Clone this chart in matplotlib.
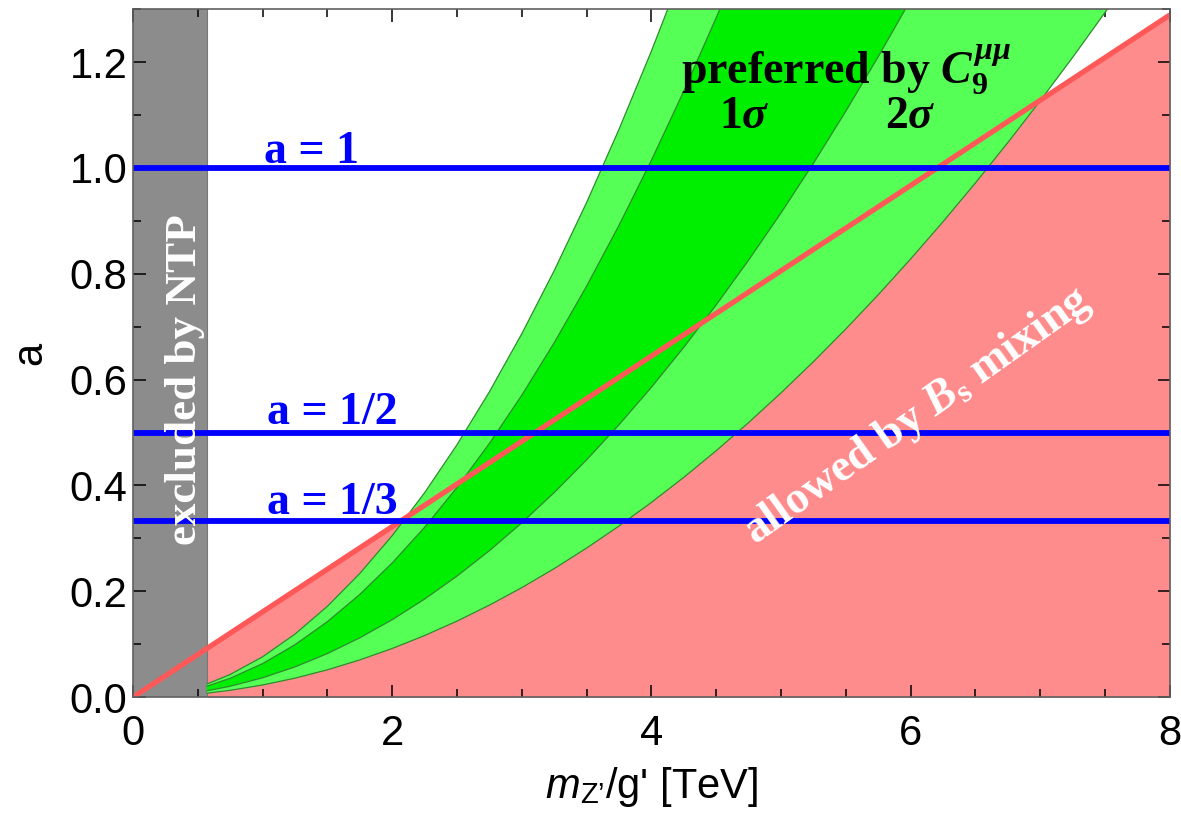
import matplotlib
matplotlib.use("Agg")
import matplotlib.pyplot as plt
from matplotlib.ticker import MultipleLocator

plt.rcParams['mathtext.fontset'] = 'custom'
plt.rcParams['mathtext.rm'] = 'Liberation Serif:bold'
plt.rcParams['mathtext.bf'] = 'Liberation Serif:bold'
plt.rcParams['mathtext.it'] = 'Liberation Serif:bold:italic'
plt.rcParams['mathtext.sf'] = 'Liberation Sans'
plt.rcParams['mathtext.cal'] = 'Liberation Sans:italic'

# ---- data ----
# NTP exclusion: m_Z'/g' below this value (TeV)
ntp_edge = 0.57
# Bs mixing bound: line a vs m (TeV)
bs_m = [0.0, 8.0]
bs_a = [0.0, 1.289]
bs_fill_m = [0.57, 8.0]
bs_fill_a = [0.092, 1.289]

# preferred-by-C9 band boundaries sampled on a common m grid
m_grid = [0.57, 0.75, 1.0, 1.25, 1.5, 1.75, 2.0, 2.25, 2.5, 2.75, 3.0, 3.25, 3.5,
          3.75, 4.0, 4.25, 4.5, 4.75, 5.0, 5.25, 5.5, 5.75, 6.0, 6.25, 6.5, 6.75,
          7.0, 7.25, 7.5, 7.75]
a_2s_upper = [0.0248, 0.0429, 0.0763, 0.1192, 0.1717, 0.2337, 0.3052, 0.3863,
              0.4769, 0.5770, 0.6867, 0.8059, 0.9347, 1.0730, 1.2208, 1.3782]
a_1s_upper = [0.0206, 0.0357, 0.0634, 0.0991, 0.1427, 0.1942, 0.2536, 0.3210,
              0.3963, 0.4795, 0.5706, 0.6697, 0.7767, 0.8916, 1.0144, 1.1452,
              1.2839, 1.4305]
a_1s_lower = [0.0119, 0.0206, 0.0366, 0.0572, 0.0824, 0.1121, 0.1464, 0.1853,
              0.2288, 0.2768, 0.3294, 0.3866, 0.4484, 0.5147, 0.5856, 0.6611,
              0.7412, 0.8258, 0.9150, 1.0088, 1.1072, 1.2101, 1.3176]
a_2s_lower = [0.0075, 0.0129, 0.0230, 0.0359, 0.0517, 0.0704, 0.0920, 0.1164,
              0.1437, 0.1739, 0.2070, 0.2429, 0.2817, 0.3234, 0.3680, 0.4154,
              0.4657, 0.5189, 0.5750, 0.6339, 0.6957, 0.7604, 0.8280, 0.8984,
              0.9717, 1.0479, 1.1270, 1.2089, 1.2938, 1.3815]

# benchmark values of a
a_lines = [1.0, 0.5, 1.0 / 3.0]
a_line_labels = ["a = 1", "a = 1/2", "a = 1/3"]

x_ticks = [0, 2, 4, 6, 8]
y_ticks = [0.0, 0.2, 0.4, 0.6, 0.8, 1.0, 1.2]

# ---- colours ----
c_gray = '#8c8c8c'
c_red_fill = '#ff8c8c'
c_red_line = '#ff5858'
c_green_2s = '#55ff55'
c_green_1s = '#00ee00'
c_green_edge = '#2e8b2e'
c_blue = '#0000ff'

fig = plt.figure(figsize=(11.81, 8.27), dpi=100)
ax = fig.add_axes([0.1126, 0.157, 0.8780, 0.832])

ax.set_xlim(0, 8)
ax.set_ylim(0, 1.3)

# NTP excluded region
ax.axvspan(0, ntp_edge, color=c_gray, lw=0, zorder=1)
ax.axvline(ntp_edge, color='#777777', lw=0.8, zorder=1.1)

# Bs mixing allowed region
ax.fill_between(bs_fill_m, 0, bs_fill_a, color=c_red_fill, lw=0, zorder=1)


def band(upper, lower, color):
    mu = m_grid[:len(upper)]
    ml = m_grid[:len(lower)]
    xs = list(mu) + list(ml[::-1])
    ys = list(upper) + list(lower[::-1])
    ax.fill(xs, ys, color=color, lw=0, zorder=2)
    ax.plot(mu, upper, color=c_green_edge, lw=0.9, zorder=2.5)
    ax.plot(ml, lower, color=c_green_edge, lw=0.9, zorder=2.5)


band(a_2s_upper, a_2s_lower, c_green_2s)
band(a_1s_upper, a_1s_lower, c_green_1s)

# Bs mixing line
ax.plot(bs_m, bs_a, color=c_red_line, lw=3.8, zorder=3, solid_capstyle='butt')

# a benchmark lines
for av in a_lines:
    ax.axhline(av, color=c_blue, lw=4.2, zorder=4)

serif = dict(family='Liberation Serif', weight='bold')
ax.text(1.38, 1.03, a_line_labels[0], color=c_blue, fontsize=33, ha='center',
        va='center', zorder=5, **serif)
ax.text(1.54, 0.537, a_line_labels[1], color=c_blue, fontsize=33, ha='center',
        va='center', zorder=5, **serif)
ax.text(1.54, 0.367, a_line_labels[2], color=c_blue, fontsize=33, ha='center',
        va='center', zorder=5, **serif)

ax.text(0.4, 0.60, "excluded by NTP", color='white', fontsize=32.5, rotation=90,
        ha='center', va='center', zorder=5, **serif)
ax.text(6.05, 0.53, r"allowed by $B_\mathrm{s}$ mixing", color='white',
        fontsize=33, rotation=35.4, rotation_mode='anchor', ha='center',
        va='center', zorder=5, **serif)
ax.text(5.5, 1.185, r"preferred by $C_9^{\mu\mu}$", color='black', fontsize=33,
        ha='center', va='center', zorder=5, **serif)
ax.text(4.72, 1.096, r"$1\sigma$", color='black', fontsize=33, ha='center',
        va='center', zorder=5, **serif)
ax.text(6.0, 1.096, r"$2\sigma$", color='black', fontsize=33, ha='center',
        va='center', zorder=5, **serif)

# axes styling
ax.set_xticks(x_ticks)
ax.set_yticks(y_ticks)
ax.set_xticklabels([str(t) for t in x_ticks])
ax.set_yticklabels([f"{t:.1f}" for t in y_ticks])
ax.xaxis.set_minor_locator(MultipleLocator(0.5))
ax.yaxis.set_minor_locator(MultipleLocator(0.1))
ax.tick_params(which='both', direction='in', top=True, right=True,
               color='black', width=1.1, zorder=6)
ax.tick_params(which='major', length=9)
ax.tick_params(which='minor', length=5.5)
ax.tick_params(axis='x', which='major', pad=12)
ax.tick_params(axis='y', which='major', pad=4)
for lab in ax.get_xticklabels() + ax.get_yticklabels():
    lab.set_family('Liberation Sans')
    lab.set_fontsize(30)
for sp in ax.spines.values():
    sp.set_color('#606060')
    sp.set_linewidth(1.2)
    sp.set_zorder(6)

ax.set_xlabel(r"$\mathcal{m}_{\mathsf{Z’}}$/g' [TeV]", family='Liberation Sans',
              fontsize=30, labelpad=8)
ax.set_ylabel("a", family='Liberation Sans', fontsize=30, labelpad=14)

fig.savefig("out.png", dpi=100)
